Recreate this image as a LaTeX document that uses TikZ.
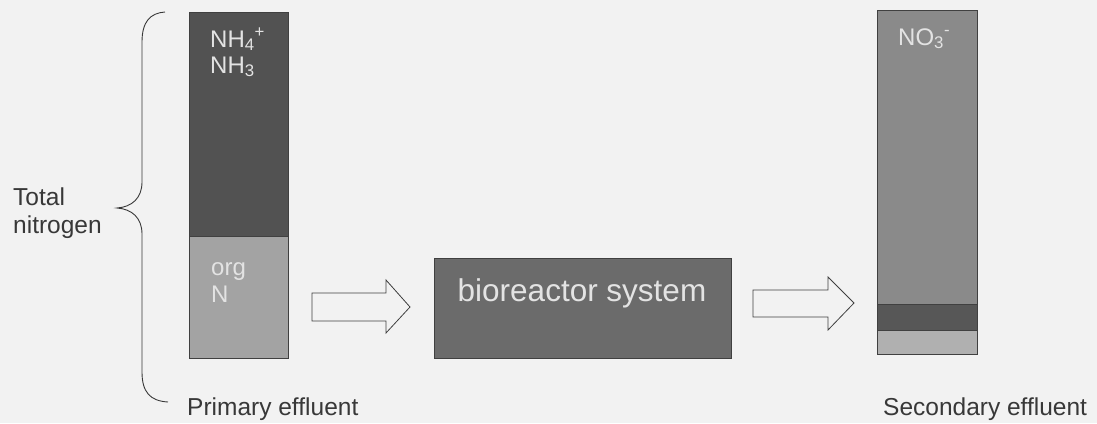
\documentclass[tikz,border=0pt]{standalone}
\usepackage{fontspec}
\setmainfont{Liberation Sans}
\definecolor{bg}{gray}{0.95}
\definecolor{darkbar}{gray}{0.32}
\definecolor{lightbar}{gray}{0.64}
\definecolor{medbar}{gray}{0.54}
\definecolor{bandbar}{gray}{0.34}
\definecolor{lowbar}{gray}{0.69}
\definecolor{boxfill}{gray}{0.42}
\definecolor{intext}{gray}{0.89}
\definecolor{outtext}{gray}{0.22}
\definecolor{edge}{gray}{0.25}
\begin{document}
\begin{tikzpicture}[x=1pt,y=-1pt,
  bar/.style={draw=edge, line width=0.9pt, inner sep=0pt, outer sep=0pt, anchor=north west},
  inlab/.style={text=intext, font=\fontsize{24}{26}\selectfont, anchor=base west, inner sep=0pt},
  lab/.style={text=outtext, font=\fontsize{24.5}{28}\selectfont, anchor=base west, inner sep=0pt},
  blockarrow/.style={draw=edge, line width=0.8pt, fill=bg, line join=miter},
  bracestyle/.style={draw=outtext, line width=0.9pt}]
\useasboundingbox (0,0) rectangle (1097,423);
\fill[bg] (0,0) rectangle (1097,423);

% primary effluent bar
\node[bar, fill=darkbar, minimum width=99pt, minimum height=224pt] (nh) at (189,12) {};
\node[bar, fill=lightbar, minimum width=99pt, minimum height=122pt] (org) at (189,236) {};
\node[inlab] (nh4) at (210,47) {NH\textsubscript{4}\textsuperscript{+}};
\node[inlab] (nh3) at (210,73) {NH\textsubscript{3}};
\node[inlab] (orgt) at (211,275) {org};
\node[inlab] (orgn) at (211,302) {N};

% brace
\coordinate (bt) at (165,12);
\coordinate (bm) at (117,208);
\coordinate (bb) at (168,402);
\draw[bracestyle] (bt) .. controls (150,13) and (142,22) .. (142,42)
  -- (142,182) .. controls (142,198) and (132,207) .. (bm)
  .. controls (132,209) and (142,218) .. (142,234)
  -- (142,372) .. controls (142,392) and (150,401) .. (bb);

\node[lab] (total) at (13,205) {Total};
\node[lab] (nitro) at (13,233) {nitrogen};
\node[lab] (prim) at (187,415) {Primary effluent};

% bioreactor
\node[bar, fill=boxfill, minimum width=297pt, minimum height=100pt] (bio) at (434,258) {};
\node[text=intext, font=\fontsize{31.5}{34}\selectfont, anchor=base, inner sep=0pt] (biot) at (582,301) {bioreactor system};

% block arrows
\draw[blockarrow] (312,293) coordinate (a1s) -- (386,293) -- (386,280) -- (410,307) coordinate (a1t)
  -- (386,333) -- (386,321) -- (312,321) -- cycle;
\draw[blockarrow] (753,290) coordinate (a2s) -- (828,290) -- (828,277) -- (854,303) coordinate (a2t)
  -- (828,330) -- (828,317) -- (753,317) -- cycle;

% secondary effluent bar
\node[bar, fill=medbar, minimum width=100pt, minimum height=294pt] (no) at (877,10) {};
\node[bar, fill=bandbar, minimum width=100pt, minimum height=26pt] (band) at (877,304) {};
\node[bar, fill=lowbar, minimum width=100pt, minimum height=24pt] (low) at (877,330) {};
\node[inlab] (no3) at (898,45) {NO\textsubscript{3}\textsuperscript{-}};
\node[lab] (sec) at (883,415) {Secondary effluent};
\end{tikzpicture}
\end{document}
